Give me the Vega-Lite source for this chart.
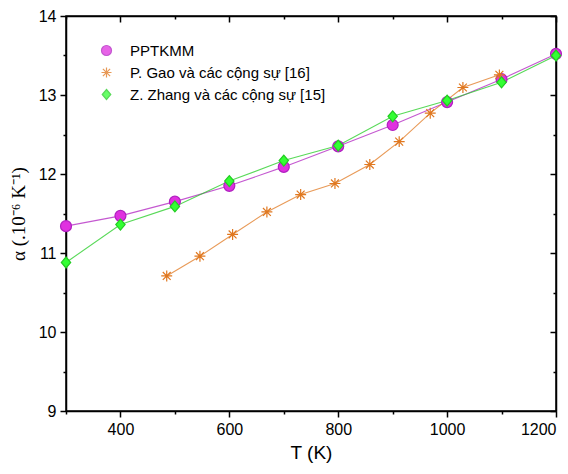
{
  "$schema": "https://vega.github.io/schema/vega-lite/v6.json",
  "autosize": "none",
  "width": 490,
  "height": 395,
  "padding": {"left": 66, "top": 16, "right": 12, "bottom": 63},
  "background": "white",
  "config": {
    "view": {"stroke": "black", "strokeWidth": 1.5},
    "axis": {"grid": false, "domainColor": "black", "tickColor": "black", "domainWidth": 1.5, "tickWidth": 1.5, "labelColor": "black", "titleColor": "black", "labelFont": "Liberation Sans", "titleFont": "Liberation Sans", "labelFontSize": 16},
    "legend": {"orient": "none", "legendX": 33, "legendY": 27, "title": null, "padding": 0,
      "labelFont": "Liberation Sans", "labelFontSize": 15, "labelColor": "black", "labelLimit": 0,
      "symbolSize": 100, "labelOffset": 16, "rowPadding": 6, "symbolStrokeWidth": 1.2}
  },
  "data": {"values": [
    {"s": "PPTKMM", "T": 300, "a": 11.34},
    {"s": "PPTKMM", "T": 400, "a": 11.47},
    {"s": "PPTKMM", "T": 500, "a": 11.65},
    {"s": "PPTKMM", "T": 600, "a": 11.85},
    {"s": "PPTKMM", "T": 700, "a": 12.09},
    {"s": "PPTKMM", "T": 800, "a": 12.35},
    {"s": "PPTKMM", "T": 900, "a": 12.62},
    {"s": "PPTKMM", "T": 1000, "a": 12.91},
    {"s": "PPTKMM", "T": 1100, "a": 13.2},
    {"s": "PPTKMM", "T": 1200, "a": 13.52},
    {"s": "P. Gao và các cộng sự [16]", "T": 485, "a": 10.71},
    {"s": "P. Gao và các cộng sự [16]", "T": 546, "a": 10.96},
    {"s": "P. Gao và các cộng sự [16]", "T": 606, "a": 11.235},
    {"s": "P. Gao và các cộng sự [16]", "T": 669, "a": 11.52},
    {"s": "P. Gao và các cộng sự [16]", "T": 731, "a": 11.74},
    {"s": "P. Gao và các cộng sự [16]", "T": 794, "a": 11.88},
    {"s": "P. Gao và các cộng sự [16]", "T": 858, "a": 12.12},
    {"s": "P. Gao và các cộng sự [16]", "T": 912, "a": 12.41},
    {"s": "P. Gao và các cộng sự [16]", "T": 969, "a": 12.77},
    {"s": "P. Gao và các cộng sự [16]", "T": 1029, "a": 13.095},
    {"s": "P. Gao và các cộng sự [16]", "T": 1096, "a": 13.255},
    {"s": "Z. Zhang và các cộng sự [15]", "T": 300, "a": 10.88},
    {"s": "Z. Zhang và các cộng sự [15]", "T": 400, "a": 11.36},
    {"s": "Z. Zhang và các cộng sự [15]", "T": 500, "a": 11.59},
    {"s": "Z. Zhang và các cộng sự [15]", "T": 600, "a": 11.91},
    {"s": "Z. Zhang và các cộng sự [15]", "T": 700, "a": 12.17},
    {"s": "Z. Zhang và các cộng sự [15]", "T": 800, "a": 12.36},
    {"s": "Z. Zhang và các cộng sự [15]", "T": 900, "a": 12.73},
    {"s": "Z. Zhang và các cộng sự [15]", "T": 1000, "a": 12.93},
    {"s": "Z. Zhang và các cộng sự [15]", "T": 1100, "a": 13.16},
    {"s": "Z. Zhang và các cộng sự [15]", "T": 1200, "a": 13.5}
  ]},
  "resolve": {"axis": {"x": "independent", "y": "independent"}},
  "layer": [
    {
      "mark": {"type": "line", "strokeWidth": 1.1, "opacity": 0.75},
      "encoding": {
        "x": {"field": "T", "type": "quantitative", "scale": {"domain": [300, 1200], "nice": false, "zero": false},
          "axis": {"orient": "bottom", "values": [400, 600, 800, 1000, 1200], "format": "d", "tickSize": 6, "labelPadding": 4, "title": "T (K)", "titleFontSize": 19, "titleFontWeight": "normal", "titlePadding": 6, "domain": true}},
        "y": {"field": "a", "type": "quantitative", "scale": {"domain": [9, 14], "nice": false, "zero": false},
          "axis": {"orient": "left", "values": [9, 10, 11, 12, 13, 14], "tickSize": 6, "labelPadding": 4, "title": "α (.10⁻⁶ K⁻¹)", "titleFont": "Liberation Serif", "titleFontSize": 19, "titleFontWeight": "normal", "titlePadding": 10, "domain": true}},
        "color": {"field": "s", "type": "nominal",
          "legend": {"encode": {"symbols": {"shape": {"value": {"expr": "datum.value === 'PPTKMM' ? 'M-3.8,0L-1,0M1,0L3.8,0M-1,0A1,1 0 1,0 1,0A1,1 0 1,0 -1,0Z' : (datum.value === 'Z. Zhang và các cộng sự [15]' ? 'M-3.8,0L-0.85,0M0.85,0L3.8,0M0,-1L0.85,0L0,1L-0.85,0Z' : 'M-3.8,0L3.8,0M0,-1L0,1M-0.72,-0.72L0.72,0.72M-0.72,0.72L0.72,-0.72')"}}}}}}
      }
    },
    {
      "mark": {"type": "point", "filled": false, "strokeWidth": 1.2, "size": 120, "opacity": 1},
      "encoding": {
        "x": {"field": "T", "type": "quantitative",
          "axis": {"orient": "bottom", "values": [300, 500, 700, 900, 1100], "tickSize": 3, "labels": false, "title": null, "domain": false}},
        "y": {"field": "a", "type": "quantitative",
          "axis": {"orient": "left", "values": [9.5, 10.5, 11.5, 12.5, 13.5], "tickSize": 3, "labels": false, "title": null, "domain": false}},
        "shape": {"field": "s", "type": "nominal",
          "scale": {"domain": ["PPTKMM", "P. Gao và các cộng sự [16]", "Z. Zhang và các cộng sự [15]"],
            "range": ["M-1,0A1,1 0 1,0 1,0A1,1 0 1,0 -1,0Z", "M-1,0L1,0M0,-1L0,1M-0.72,-0.72L0.72,0.72M-0.72,0.72L0.72,-0.72", "M0,-1L0.85,0L0,1L-0.85,0Z"]},
          "legend": {"encode": {"symbols": {"shape": {"value": {"expr": "datum.value === 'PPTKMM' ? 'M-3.8,0L-1,0M1,0L3.8,0M-1,0A1,1 0 1,0 1,0A1,1 0 1,0 -1,0Z' : (datum.value === 'Z. Zhang và các cộng sự [15]' ? 'M-3.8,0L-0.85,0M0.85,0L3.8,0M0,-1L0.85,0L0,1L-0.85,0Z' : 'M-3.8,0L3.8,0M0,-1L0,1M-0.72,-0.72L0.72,0.72M-0.72,0.72L0.72,-0.72')"}}}}}},
        "color": {"field": "s", "type": "nominal",
          "scale": {"domain": ["PPTKMM", "P. Gao và các cộng sự [16]", "Z. Zhang và các cộng sự [15]"], "range": ["#b020c0", "#e07820", "#22cc22"]},
          "legend": {"encode": {"symbols": {"shape": {"value": {"expr": "datum.value === 'PPTKMM' ? 'M-3.8,0L-1,0M1,0L3.8,0M-1,0A1,1 0 1,0 1,0A1,1 0 1,0 -1,0Z' : (datum.value === 'Z. Zhang và các cộng sự [15]' ? 'M-3.8,0L-0.85,0M0.85,0L3.8,0M0,-1L0.85,0L0,1L-0.85,0Z' : 'M-3.8,0L3.8,0M0,-1L0,1M-0.72,-0.72L0.72,0.72M-0.72,0.72L0.72,-0.72')"}}}}}},
        "fill": {"field": "s", "type": "nominal",
          "scale": {"domain": ["PPTKMM", "P. Gao và các cộng sự [16]", "Z. Zhang và các cộng sự [15]"], "range": ["#e030e0", "transparent", "#33ff33"]},
          "legend": {"encode": {"symbols": {"shape": {"value": {"expr": "datum.value === 'PPTKMM' ? 'M-3.8,0L-1,0M1,0L3.8,0M-1,0A1,1 0 1,0 1,0A1,1 0 1,0 -1,0Z' : (datum.value === 'Z. Zhang và các cộng sự [15]' ? 'M-3.8,0L-0.85,0M0.85,0L3.8,0M0,-1L0.85,0L0,1L-0.85,0Z' : 'M-3.8,0L3.8,0M0,-1L0,1M-0.72,-0.72L0.72,0.72M-0.72,0.72L0.72,-0.72')"}}}}}}
      }
    },
    {
      "mark": {"type": "point", "opacity": 0},
      "encoding": {
        "x": {"field": "T", "type": "quantitative",
          "axis": {"orient": "top", "values": [400, 600, 800, 1000, 1200], "tickSize": -6, "labels": false, "title": null, "domain": true}},
        "y": {"field": "a", "type": "quantitative",
          "axis": {"orient": "right", "values": [9, 10, 11, 12, 13, 14], "tickSize": -6, "labels": false, "title": null, "domain": true}}
      }
    },
    {
      "mark": {"type": "point", "opacity": 0},
      "encoding": {
        "x": {"field": "T", "type": "quantitative",
          "axis": {"orient": "top", "values": [300, 500, 700, 900, 1100], "tickSize": -3, "labels": false, "title": null, "domain": false}},
        "y": {"field": "a", "type": "quantitative",
          "axis": {"orient": "right", "values": [9.5, 10.5, 11.5, 12.5, 13.5], "tickSize": -3, "labels": false, "title": null, "domain": false}}
      }
    }
  ]
}
